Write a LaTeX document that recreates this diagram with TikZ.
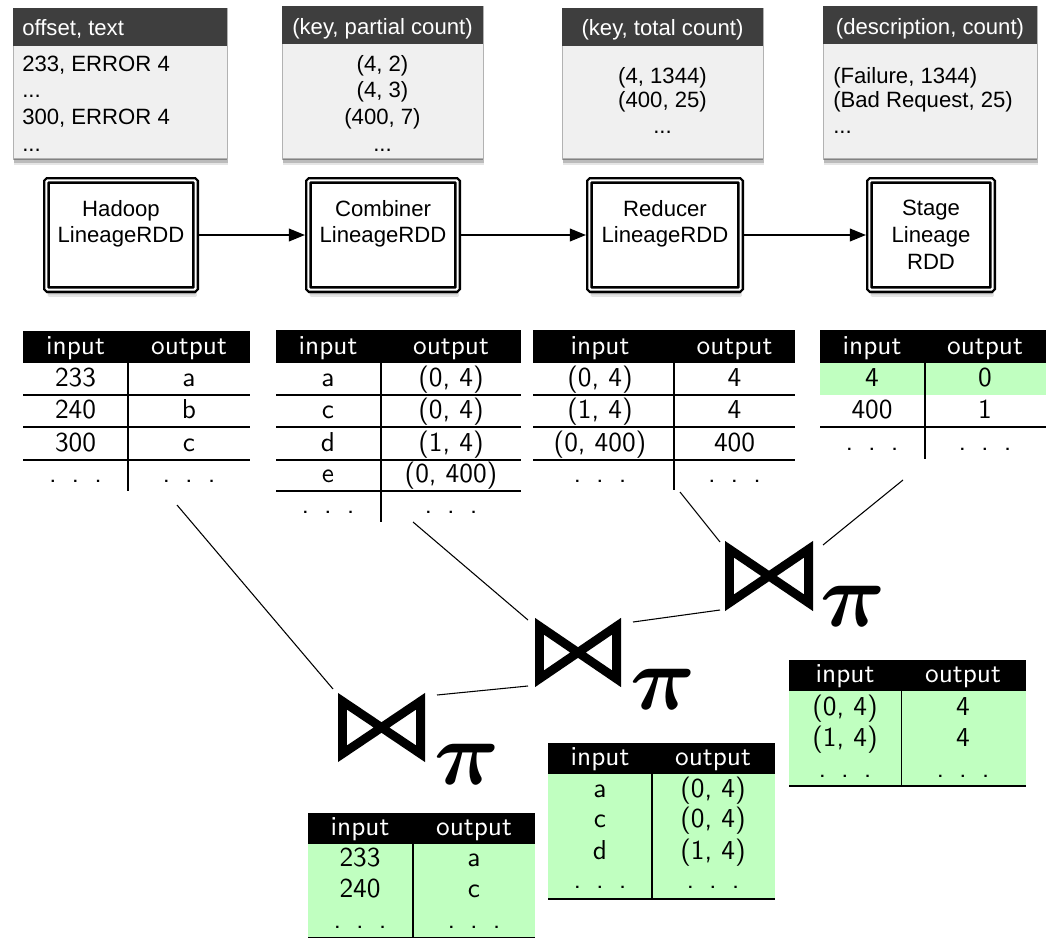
\documentclass[tikz,border=0pt]{standalone}
\usepackage{bm}
\usepackage{fontspec}
\newfontfamily\helv{Liberation Sans}
\usetikzlibrary{shadows,arrows.meta,fit}
\definecolor{hdrgray}{RGB}{62,62,62}
\definecolor{bodygray}{RGB}{240,240,240}
\definecolor{lgreen}{RGB}{192,255,192}
\newcommand\tdots{.\hspace{0.55em}.\hspace{0.55em}.}
\tikzset{
  softshadow/.style={
    drop shadow={shadow xshift=0pt,shadow yshift=-1.5pt,opacity=.3,fill=black},
    drop shadow={shadow xshift=0.5pt,shadow yshift=-3.5pt,opacity=.18,fill=black},
    drop shadow={shadow xshift=1pt,shadow yshift=-5.5pt,opacity=.1,fill=black}},
  topbody/.style={fill=bodygray,draw=black!30,line width=0.5pt,inner sep=0pt,outer sep=0pt,softshadow},
  tophead/.style={fill=hdrgray,inner sep=0pt,outer sep=0pt},
  toptext/.style={font=\helv\fontsize{16.6}{20}\selectfont,inner sep=0pt,anchor=base},
  rddbox/.style={draw=black,double=white,line width=1.8pt,double distance=1.5pt,fill=white,
    rounded corners=1pt,inner sep=0pt,outer sep=2.6pt,softshadow},
  rddtext/.style={font=\helv\fontsize{16.6}{20}\selectfont,align=center,anchor=north,inner sep=0pt},
  arrowline/.style={line width=1.2pt,-{Triangle[length=12pt,width=9.5pt]}},
  thead/.style={fill=black,inner sep=0pt,outer sep=0pt},
  tgreen/.style={fill=lgreen,inner sep=0pt,outer sep=0pt},
  tcell/.style={anchor=base,inner sep=0pt,scale=2.05,font=\sffamily\fontsize{10}{12}\selectfont},
  thcell/.style={tcell,text=white},
  tline/.style={line width=0.9pt},
  conn/.style={line width=0.8pt},
  joinbox/.style={inner sep=0pt,outer sep=0pt},
  bowtie/.style={line width=6.6pt,line join=miter},
  pisym/.style={anchor=base west,inner sep=0pt,scale=6.8},
}
\begin{document}
\begin{tikzpicture}[x=0.75pt,y=-0.75pt]
\useasboundingbox[fill=white] (0,0) rectangle (1050,939);

% ---------- top record boxes ----------
\node[topbody,fit={(13,8) (227,158)}] (b1) {};
\node[tophead,fit={(13,8) (227,46)}] (b1h) {};
\node[toptext,text=white,anchor=base west] (b1ht) at (22,35.5) {offset, text};
\node[toptext,anchor=base west] (b1r1) at (22,71) {233, ERROR 4};
\node[toptext,anchor=base west] (b1r2) at (22,97.5) {...};
\node[toptext,anchor=base west] (b1r3) at (22,124.5) {300, ERROR 4};
\node[toptext,anchor=base west] (b1r4) at (22,151) {...};

\node[topbody,fit={(282,6) (483,158)}] (b2) {};
\node[tophead,fit={(282,6) (483,44)}] (b2h) {};
\node[toptext,text=white] (b2ht) at (382.5,34) {(key, partial count)};
\node[toptext] (b2r1) at (382.5,71) {(4, 2)};
\node[toptext] (b2r2) at (382.5,97.5) {(4, 3)};
\node[toptext] (b2r3) at (382.5,124.5) {(400, 7)};
\node[toptext] (b2r4) at (382.5,151) {...};

\node[topbody,fit={(562,8) (763,158)}] (b3) {};
\node[tophead,fit={(562,8) (763,46)}] (b3h) {};
\node[toptext,text=white] (b3ht) at (662.5,35.5) {(key, total count)};
\node[toptext] (b3r1) at (662.5,83) {(4, 1344)};
\node[toptext] (b3r2) at (662.5,107.5) {(400, 25)};
\node[toptext] (b3r3) at (662.5,133.5) {...};

\node[topbody,fit={(823,6) (1037,158)}] (b4) {};
\node[tophead,fit={(823,6) (1037,44)}] (b4h) {};
\node[toptext,text=white] (b4ht) at (930,34) {(description, count)};
\node[toptext,anchor=base west] (b4r1) at (833,83) {(Failure, 1344)};
\node[toptext,anchor=base west] (b4r2) at (833,107.5) {(Bad Request, 25)};
\node[toptext,anchor=base west] (b4r3) at (833,133.5) {...};

% ---------- RDD boxes ----------
\node[rddbox,fit={(46.4,180.4) (195.6,289.6)}] (hadoop) {};
\node[rddtext] (hadoopt) at (121,200) {Hadoop\\LineageRDD};
\node[rddbox,fit={(308.4,180.4) (457.6,289.6)}] (combiner) {};
\node[rddtext] (combinert) at (383,200) {Combiner\\LineageRDD};
\node[rddbox,fit={(589.4,180.4) (740.6,289.6)}] (reducer) {};
\node[rddtext] (reducert) at (665,200) {Reducer\\LineageRDD};
\node[rddbox,fit={(869.4,180.4) (992.6,289.6)}] (stage) {};
\node[rddtext] (staget) at (931,200) {Stage\\Lineage\\RDD};

\draw[arrowline] (hadoop) -- (combiner);
\draw[arrowline] (combiner) -- (reducer);
\draw[arrowline] (reducer) -- (stage);

% ---------- table 1 ----------
\node[thead,fit={(23,331) (250,363)}] (t1h) {};
\node[thcell] (t1hi) at (75.5,354) {input};
\node[thcell] (t1ho) at (189,354) {output};
\node[tcell] (t1a1) at (75.5,386.5) {233};  \node[tcell] (t1b1) at (189,386.5) {a};
\node[tcell] (t1a2) at (75.5,418.5) {240};  \node[tcell] (t1b2) at (189,418.5) {b};
\node[tcell] (t1a3) at (75.5,451.5) {300};  \node[tcell] (t1b3) at (189,451.5) {c};
\node[tcell] (t1a4) at (75.5,482) {\tdots}; \node[tcell] (t1b4) at (189,482) {\tdots};
\draw[tline] (23,395) -- (250,395) (23,427) -- (250,427) (23,460) -- (250,460)
  (128,363) -- (128,491);

% ---------- table 2 ----------
\node[thead,fit={(276,330) (521,363)}] (t2h) {};
\node[thcell] (t2hi) at (328,354) {input};
\node[thcell] (t2ho) at (451,354) {output};
\node[tcell] (t2a1) at (328,386.5) {a}; \node[tcell] (t2b1) at (451,386.5) {(0, 4)};
\node[tcell] (t2a2) at (328,418.5) {c}; \node[tcell] (t2b2) at (451,418.5) {(0, 4)};
\node[tcell] (t2a3) at (328,451.5) {d}; \node[tcell] (t2b3) at (451,451.5) {(1, 4)};
\node[tcell] (t2a4) at (328,482.5) {e}; \node[tcell] (t2b4) at (451,482.5) {(0, 400)};
\node[tcell] (t2a5) at (328,513) {\tdots}; \node[tcell] (t2b5) at (451,513) {\tdots};
\draw[tline] (276,395) -- (521,395) (276,427) -- (521,427) (276,460) -- (521,460)
  (276,491) -- (521,491) (381,363) -- (381,522);

% ---------- table 3 ----------
\node[thead,fit={(533,330) (795,363)}] (t3h) {};
\node[thcell] (t3hi) at (600,354) {input};
\node[thcell] (t3ho) at (734.5,354) {output};
\node[tcell] (t3a1) at (600,386.5) {(0, 4)};   \node[tcell] (t3b1) at (734.5,386.5) {4};
\node[tcell] (t3a2) at (600,418.5) {(1, 4)};   \node[tcell] (t3b2) at (734.5,418.5) {4};
\node[tcell] (t3a3) at (600,451.5) {(0, 400)}; \node[tcell] (t3b3) at (734.5,451.5) {400};
\node[tcell] (t3a4) at (600,482) {\tdots};     \node[tcell] (t3b4) at (734.5,482) {\tdots};
\draw[tline] (533,395) -- (795,395) (533,427) -- (795,427) (533,460) -- (795,460)
  (674,363) -- (674,490);

% ---------- table 4 ----------
\node[thead,fit={(820,330) (1046,363)}] (t4h) {};
\node[tgreen,fit={(820,363) (1046,395)}] (t4g) {};
\node[thcell] (t4hi) at (872,354) {input};
\node[thcell] (t4ho) at (985,354) {output};
\node[tcell] (t4a1) at (872,386.5) {4};   \node[tcell] (t4b1) at (985,386.5) {0};
\node[tcell] (t4a2) at (872,418.5) {400}; \node[tcell] (t4b2) at (985,418.5) {1};
\node[tcell] (t4a3) at (872,450) {\tdots}; \node[tcell] (t4b3) at (985,450) {\tdots};
\draw[tline] (820,427) -- (1046,427) (925,363) -- (925,459);

% ---------- joins ----------
\node[joinbox,fit={(338,692) (425,763)}] (j1) {};
\node[joinbox,fit={(535,617) (621,688)}] (j2) {};
\node[joinbox,fit={(725,540) (813,612)}] (j3) {};
\foreach \j in {j1,j2,j3}{
  \draw[bowtie] ([shift={(4.4,9.2)}]\j.north west) -- ([shift={(4.4,-9.2)}]\j.south west)
    -- ([shift={(-4.4,9.2)}]\j.north east) -- ([shift={(-4.4,-9.2)}]\j.south east) -- cycle;
}
\node[pisym] (p1) at (433,784) {$\bm{\pi}$};
\node[pisym] (p2) at (629,709) {$\bm{\pi}$};
\node[pisym] (p3) at (819,626) {$\bm{\pi}$};

% ---------- connectors ----------
\coordinate (c1) at (177,505);
\coordinate (c2) at (413,522);
\coordinate (c3) at (680,492);
\coordinate (c4) at (903,480);
\draw[conn] (c1) -- ([shift={(-5,-3)}]j1.north west);
\draw[conn] (c2) -- ([shift={(-7,3)}]j2.north west);
\draw[conn] ([shift={(12,3)}]j1.north east) -- ([shift={(-7,-2)}]j2.south west);
\draw[conn] ([shift={(12,5)}]j2.north east) -- ([shift={(-5,-2)}]j3.south west);
\draw[conn] (c3) -- ([shift={(-5,2)}]j3.north west);
\draw[conn] (c4) -- ([shift={(10,5)}]j3.north east);

% ---------- table 5 ----------
\node[tgreen,fit={(789,691) (1026,786)}] (t5g) {};
\node[thead,fit={(789,660) (1026,691)}] (t5h) {};
\node[thcell] (t5hi) at (845,682) {input};
\node[thcell] (t5ho) at (963,682) {output};
\node[tcell] (t5a1) at (845,715) {(0, 4)}; \node[tcell] (t5b1) at (963,715) {4};
\node[tcell] (t5a2) at (845,746) {(1, 4)}; \node[tcell] (t5b2) at (963,746) {4};
\node[tcell] (t5a3) at (845,777) {\tdots}; \node[tcell] (t5b3) at (963,777) {\tdots};
\draw[tline] (789,786) -- (1026,786) (901.5,691) -- (901.5,786);

% ---------- table 6 ----------
\node[tgreen,fit={(548,774) (775,899)}] (t6g) {};
\node[thead,fit={(548,743) (775,774)}] (t6h) {};
\node[thcell] (t6hi) at (600,765) {input};
\node[thcell] (t6ho) at (713,765) {output};
\node[tcell] (t6a1) at (600,797) {a}; \node[tcell] (t6b1) at (713,797) {(0, 4)};
\node[tcell] (t6a2) at (600,827) {c}; \node[tcell] (t6b2) at (713,827) {(0, 4)};
\node[tcell] (t6a3) at (600,859) {d}; \node[tcell] (t6b3) at (713,859) {(1, 4)};
\node[tcell] (t6a4) at (600,888) {\tdots}; \node[tcell] (t6b4) at (713,888) {\tdots};
\draw[tline] (548,899) -- (775,899) (652,774) -- (652,899);

% ---------- table 7 ----------
\node[tgreen,fit={(308,844) (535,938)}] (t7g) {};
\node[thead,fit={(308,813) (535,844)}] (t7h) {};
\node[thcell] (t7hi) at (360,835) {input};
\node[thcell] (t7ho) at (474,835) {output};
\node[tcell] (t7a1) at (360,866) {233}; \node[tcell] (t7b1) at (474,866) {a};
\node[tcell] (t7a2) at (360,897) {240}; \node[tcell] (t7b2) at (474,897) {c};
\node[tcell] (t7a3) at (360,928) {\tdots}; \node[tcell] (t7b3) at (474,928) {\tdots};
\draw[tline] (308,937.5) -- (535,937.5) (413,844) -- (413,938);
\end{tikzpicture}
\end{document}
